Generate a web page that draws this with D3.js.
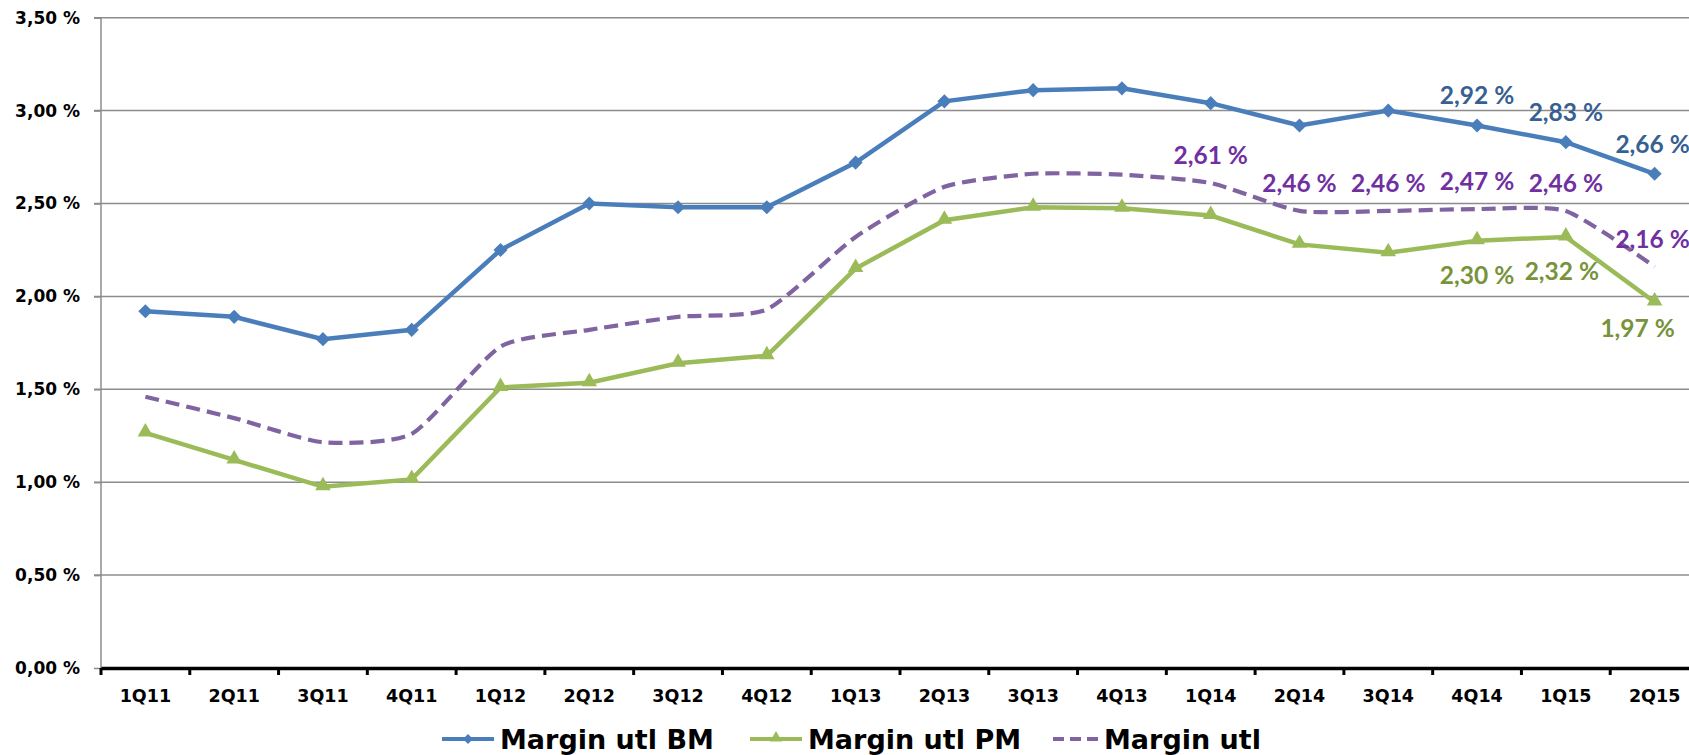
<!DOCTYPE html>
<html>
<head>
<meta charset="utf-8">
<script src="https://cdn.jsdelivr.net/npm/d3@7"></script>
<style>
  body { margin: 0; background: #fff; }
  svg { display: block; }
  .axis text { font-family: "DejaVu Sans", sans-serif; font-weight: bold; fill: #000; }
  .lbl { font-family: Lato, "Open Sans", sans-serif; font-weight: bold; font-size: 24.5px; }
</style>
</head>
<body>
<svg id="svg1" width="1689" height="755"></svg>
<script>
// quarters + three series (values in %)
const quarters = ["1Q11","2Q11","3Q11","4Q11","1Q12","2Q12","3Q12","4Q12","1Q13","2Q13","3Q13","4Q13","1Q14","2Q14","3Q14","4Q14","1Q15","2Q15"];
const marginBM = [1.92,1.89,1.77,1.82,2.25,2.50,2.48,2.48,2.72,3.05,3.11,3.12,3.04,2.92,3.00,2.92,2.83,2.66];
const marginPM = [1.265,1.12,0.975,1.015,1.51,1.535,1.64,1.68,2.15,2.41,2.48,2.475,2.435,2.28,2.235,2.30,2.32,1.97];
const marginUtl = [1.46,1.345,1.215,1.26,1.73,1.82,1.89,1.93,2.32,2.59,2.66,2.655,2.61,2.46,2.46,2.47,2.46,2.16];
const yTicks = [0,0.5,1,1.5,2,2.5,3,3.5];

// which points carry a value label
const labelsBM = [15,16,17];
const labelsPM = [15,16,17];
const labelsUtl = [12,13,14,15,16,17];

const plotLeft = 101, plotRight = 1699, plotTop = 17.7, plotBottom = 668;
const fmt = function(v) { return d3.format(".2f")(v).replace(".", ",") + " %"; };

var x = d3.scaleBand().domain(quarters).range([plotLeft, plotRight]);
var y = d3.scaleLinear().domain([0, 3.5]).range([plotBottom, plotTop]);
var cx = function(i) { return x(quarters[i]) + x.bandwidth() / 2; };

const svg = d3.select('#svg1');

// gridlines
svg.append('g')
    .selectAll('line').data(yTicks.slice(1)).enter().append('line')
    .attr('x1', plotLeft - 7).attr('x2', 1689)
    .attr('y1', function(d) { return y(d); })
    .attr('y2', function(d) { return y(d); })
    .attr('stroke', '#8c8c8c').attr('stroke-width', 1.5);

// y axis
var yAxis = svg.append('g')
    .attr('class', 'axis')
    .attr('transform', 'translate(' + plotLeft + ',0)')
    .call(d3.axisLeft(y).tickValues(yTicks).tickSize(7).tickFormat(fmt));
yAxis.select('.domain').attr('stroke', '#8c8c8c').attr('stroke-width', 1.5)
    .attr('d', 'M0,' + plotTop + 'V' + plotBottom);
yAxis.selectAll('.tick line').attr('stroke', '#8c8c8c').attr('stroke-width', 1.5);
yAxis.selectAll('.tick text').attr('x', -21).style('font-size', '17px');

// x axis: labels at band centers, ticks at band edges
var xAxis = svg.append('g')
    .attr('class', 'axis')
    .attr('transform', 'translate(0,' + plotBottom + ')')
    .call(d3.axisBottom(x).tickSize(0).tickPadding(22));
xAxis.select('.domain').attr('stroke', '#000').attr('stroke-width', 3.5);
xAxis.selectAll('.tick text').style('font-size', '17.5px');
svg.append('g')
    .selectAll('line').data(quarters).enter().append('line')
    .attr('x1', function(d) { return x(d); })
    .attr('x2', function(d) { return x(d); })
    .attr('y1', plotBottom).attr('y2', plotBottom + 7)
    .attr('stroke', '#000').attr('stroke-width', 3);

// series
var line = d3.line().x(function(d, i) { return cx(i); }).y(function(d) { return y(d); });
var smooth = d3.line().x(function(d, i) { return cx(i); }).y(function(d) { return y(d); })
    .curve(d3.curveCardinal.tension(0.4));

svg.append('path').datum(marginUtl)
    .attr('d', smooth).attr('fill', 'none')
    .attr('stroke', '#8064a2').attr('stroke-width', 4.2)
    .attr('stroke-dasharray', '14,7');

svg.append('path').datum(marginPM)
    .attr('d', line).attr('fill', 'none')
    .attr('stroke', '#9bbb59').attr('stroke-width', 4.5);

svg.append('path').datum(marginBM)
    .attr('d', line).attr('fill', 'none')
    .attr('stroke', '#4a7ebb').attr('stroke-width', 4.5);

svg.append('g')
    .selectAll('path').data(marginPM).enter().append('path')
    .attr('d', d3.symbol(d3.symbolTriangle, 105))
    .attr('transform', function(d, i) { return 'translate(' + cx(i) + ',' + (y(d) - 1) + ')'; })
    .attr('fill', '#9bbb59');

svg.append('g')
    .selectAll('path').data(marginBM).enter().append('path')
    .attr('d', d3.symbol(d3.symbolSquare, 100))
    .attr('transform', function(d, i) { return 'translate(' + cx(i) + ',' + y(d) + ') rotate(45)'; })
    .attr('fill', '#4a7ebb');

// data labels
svg.append('g')
    .selectAll('text').data(labelsUtl).enter().append('text')
    .attr('class', 'lbl')
    .attr('x', function(i) { return cx(i) - (i == 17 ? 2 : 0); })
    .attr('y', function(i) { return y(marginUtl[i]) - 19; })
    .attr('text-anchor', 'middle').attr('fill', '#7030a0')
    .text(function(i) { return fmt(marginUtl[i]); });

svg.append('g')
    .selectAll('text').data(labelsBM).enter().append('text')
    .attr('class', 'lbl')
    .attr('x', function(i) { return cx(i) - (i == 17 ? 2 : 0); })
    .attr('y', function(i) { return y(marginBM[i]) - 21; })
    .attr('text-anchor', 'middle').attr('fill', '#376092')
    .text(function(i) { return fmt(marginBM[i]); });

svg.append('g')
    .selectAll('text').data(labelsPM).enter().append('text')
    .attr('class', 'lbl')
    .attr('x', function(i) { return cx(i) - (i == 17 ? 17 : (i == 16 ? 4 : 0)); })
    .attr('y', function(i) { return y(marginPM[i]) + (i == 17 ? 35 : 43); })
    .attr('text-anchor', 'middle').attr('fill', '#77933c')
    .text(function(i) { return fmt(marginPM[i]); });

// legend
const legendNames = ["Margin utl BM", "Margin utl PM", "Margin utl"];
const legendX = [442, 750, 1053];
const legendCol = ['#4a7ebb', '#9bbb59', '#8064a2'];
var lg = svg.append('g').selectAll('g').data(legendNames).enter().append('g')
    .attr('transform', function(d, i) { return 'translate(' + legendX[i] + ',739)'; });
lg.append('line')
    .attr('x1', 0).attr('x2', function(d, i) { return i == 2 ? 46 : 52; })
    .attr('y1', 0).attr('y2', 0)
    .attr('stroke', function(d, i) { return legendCol[i]; })
    .attr('stroke-width', 4.2)
    .attr('stroke-dasharray', function(d, i) { return i == 2 ? '11,6' : null; });
lg.filter(function(d, i) { return i == 0; }).append('path')
    .attr('d', d3.symbol(d3.symbolSquare, 50)).attr('transform', 'translate(26,0) rotate(45)').attr('fill', '#4a7ebb');
lg.filter(function(d, i) { return i == 1; }).append('path')
    .attr('d', d3.symbol(d3.symbolTriangle, 65)).attr('transform', 'translate(26,-1)').attr('fill', '#9bbb59');
lg.append('text')
    .attr('x', function(d, i) { return i == 2 ? 51 : 58; })
    .attr('dy', '0.36em')
    .style('font-family', '"DejaVu Sans", sans-serif')
    .style('font-weight', 'bold').style('font-size', '27px')
    .text(function(d) { return d; });
</script>
</body>
</html>
